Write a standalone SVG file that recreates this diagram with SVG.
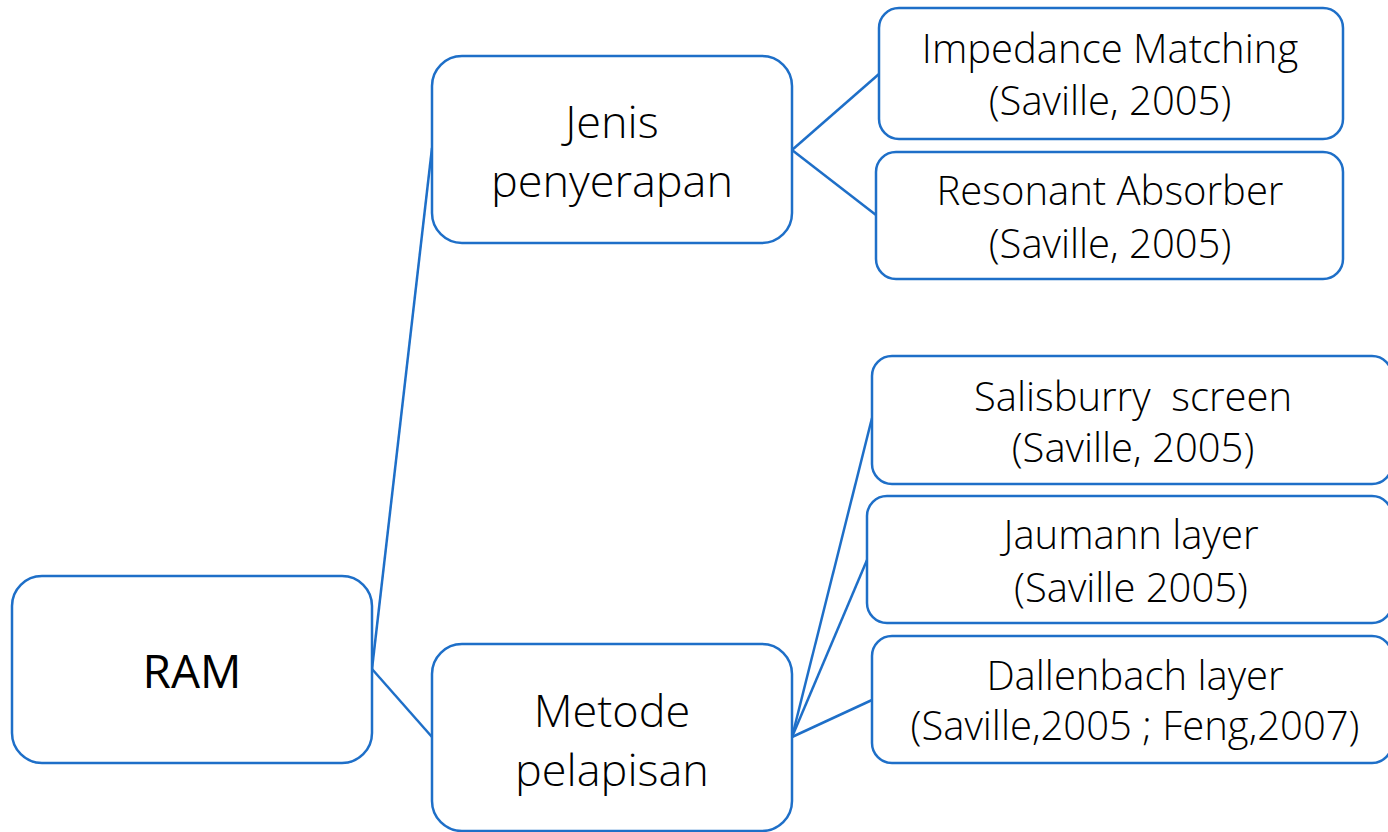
<svg xmlns="http://www.w3.org/2000/svg" width="1388" height="832" viewBox="0 0 1388 832">
<style>
.box{fill:#fff;stroke:#1e6fc8;stroke-width:2.5}
.ln{stroke:#1e6fc8;stroke-width:2.5;fill:none}
.t{font-family:"Open Sans","Noto Sans",sans-serif;font-weight:300;fill:#000;text-anchor:middle}
.big{font-size:45px}
.sm{font-size:40px}
.ram{font-family:"Open Sans","Noto Sans",sans-serif;font-weight:400;font-size:46px;fill:#000;text-anchor:middle}
</style>
<rect width="1388" height="832" fill="#fff"/>
<g id="connectors">
<line class="ln" x1="372" y1="669" x2="432" y2="148"/>
<line class="ln" x1="372" y1="669" x2="432" y2="737"/>
<line class="ln" x1="792" y1="150" x2="879" y2="74"/>
<line class="ln" x1="792" y1="150" x2="876" y2="215"/>
<line class="ln" x1="792" y1="737" x2="872" y2="418"/>
<line class="ln" x1="792" y1="737" x2="867" y2="560"/>
<line class="ln" x1="792" y1="737" x2="872" y2="700"/>
</g>
<g id="ram">
<rect class="box" x="12" y="576" width="360" height="187" rx="30"/>
<text class="ram" x="192" y="688">RAM</text>
</g>
<g id="jenis">
<rect class="box" x="432" y="56" width="360" height="187" rx="30"/>
<text class="t big" x="612" y="138">Jenis</text>
<text class="t big" x="612" y="197">penyerapan</text>
</g>
<g id="metode">
<rect class="box" x="432" y="644" width="360" height="187" rx="30"/>
<text class="t big" x="612" y="727">Metode</text>
<text class="t big" x="612" y="786">pelapisan</text>
</g>
<g id="impedance">
<rect class="box" x="879" y="8" width="464" height="131" rx="20"/>
<text class="t sm" x="1110" y="63">Impedance Matching</text>
<text class="t sm" x="1110" y="115">(Saville, 2005)</text>
</g>
<g id="resonant">
<rect class="box" x="876" y="152" width="467" height="127" rx="20"/>
<text class="t sm" x="1110" y="205">Resonant Absorber</text>
<text class="t sm" x="1110" y="258">(Saville, 2005)</text>
</g>
<g id="salisburry">
<rect class="box" x="872" y="356" width="520" height="128" rx="20"/>
<text class="t sm" x="1133" y="411" xml:space="preserve">Salisburry  screen</text>
<text class="t sm" x="1133" y="462">(Saville, 2005)</text>
</g>
<g id="jaumann">
<rect class="box" x="867" y="496" width="525" height="127" rx="20"/>
<text class="t sm" x="1131" y="549">Jaumann layer</text>
<text class="t sm" x="1131" y="602">(Saville 2005)</text>
</g>
<g id="dallenbach">
<rect class="box" x="872" y="636" width="520" height="127" rx="20"/>
<text class="t sm" x="1135" y="690">Dallenbach layer</text>
<text class="t sm" x="1135" y="740">(Saville,2005 ; Feng,2007)</text>
</g>
</svg>
